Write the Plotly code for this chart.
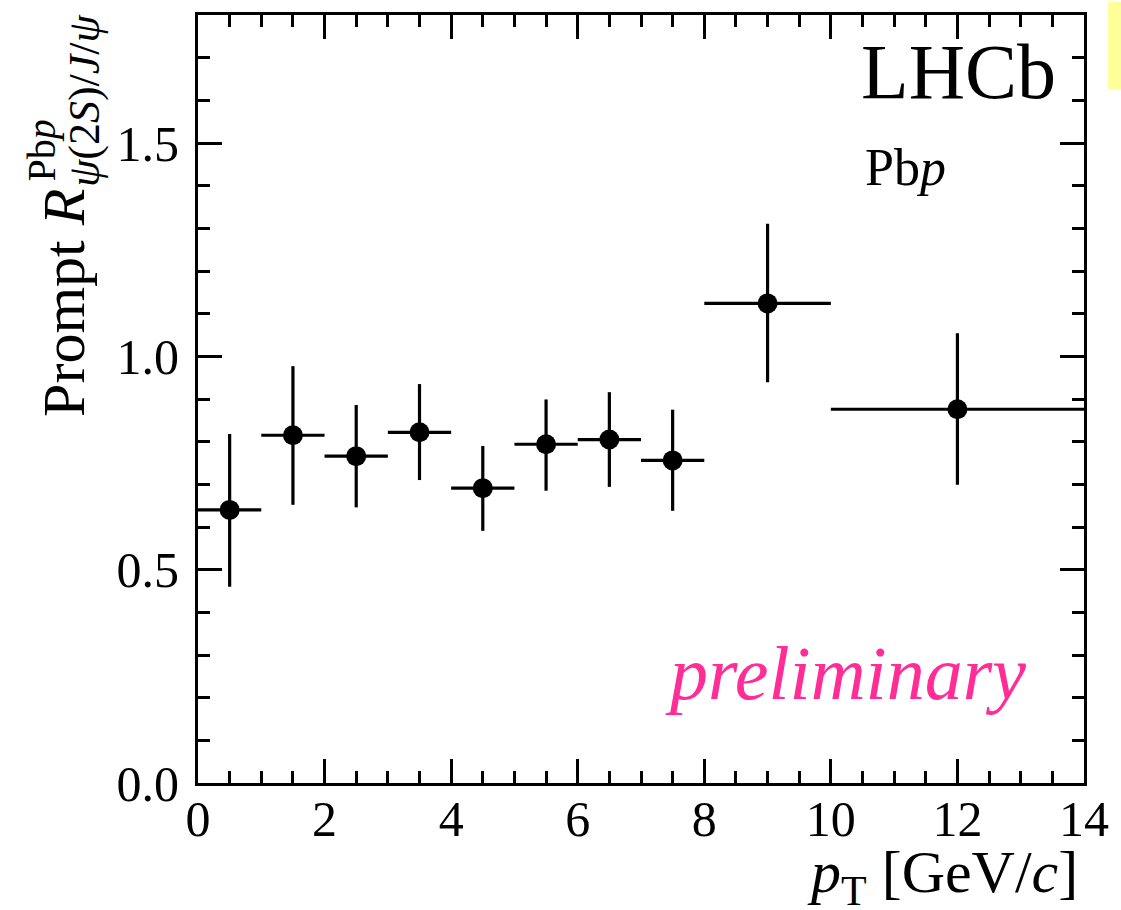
import plotly.graph_objects as go

# Data
pt_centers = [0.5, 1.5, 2.5, 3.5, 4.5, 5.5, 6.5, 7.5, 9.0, 12.0]
pt_halfwidth = [0.5, 0.5, 0.5, 0.5, 0.5, 0.5, 0.5, 0.5, 1.0, 2.0]
ratio = [0.640, 0.815, 0.766, 0.822, 0.691, 0.794, 0.805, 0.756, 1.124, 0.876]
err_up = [0.178, 0.162, 0.120, 0.113, 0.099, 0.105, 0.111, 0.119, 0.187, 0.178]
err_down = [0.180, 0.163, 0.120, 0.112, 0.100, 0.109, 0.111, 0.118, 0.185, 0.177]

x_ticks = [0, 2, 4, 6, 8, 10, 12, 14]
y_ticks = [0.0, 0.5, 1.0, 1.5]

SERIF = "Liberation Serif, Times New Roman, serif"

fig = go.Figure()
fig.add_trace(go.Scatter(
    x=pt_centers, y=ratio, mode="markers",
    marker=dict(color="black", size=20, symbol="circle"),
    error_x=dict(type="data", array=pt_halfwidth, symmetric=True,
                 color="black", thickness=3.2, width=0),
    error_y=dict(type="data", array=err_up, arrayminus=err_down,
                 symmetric=False, color="black", thickness=3.2, width=0),
    showlegend=False,
))

L, R, T, B = 198, 37, 13, 127
W, H = 1121, 910
pw, ph = W - L - R, H - T - B


def px(xp):
    return (xp - L) / pw


def py(yp):
    return (H - B - yp) / ph


axis_common = dict(
    showline=True, linecolor="black", linewidth=3, mirror="allticks",
    ticks="inside", ticklen=24, tickwidth=2.8, tickcolor="black",
    showgrid=False, zeroline=False,
    tickfont=dict(family=SERIF, size=50, color="black"),
)

fig.update_layout(
    width=W, height=H,
    margin=dict(l=L, r=R, t=T, b=B),
    paper_bgcolor="white", plot_bgcolor="white",
    xaxis=dict(range=[0, 14], tickvals=x_ticks,
               ticktext=[str(v) for v in x_ticks],
               minor=dict(dtick=0.5, ticks="inside", ticklen=12,
                          tickwidth=2.8, tickcolor="black", showgrid=False),
               ticklabelstandoff=-10,
               **axis_common),
    yaxis=dict(range=[0, 1.8], tickvals=y_ticks,
               ticktext=["%.1f" % v for v in y_ticks],
               minor=dict(dtick=0.1, ticks="inside", ticklen=12,
                          tickwidth=2.8, tickcolor="black", showgrid=False),
               ticklabelstandoff=6,
               **axis_common),
)

annotations = [
    # x-axis title
    dict(text="<i>p</i><sub>T</sub> [GeV/<i>c</i>]", x=px(1080), y=py(837),
         xanchor="right", yanchor="top", font=dict(family=SERIF, size=60)),
    # y-axis title pieces
    dict(text="Prompt <i>R</i>", x=px(64), y=py(418), textangle=-90,
         xanchor="center", yanchor="bottom", font=dict(family=SERIF, size=60)),
    dict(text="Pb<i>p</i>", x=px(42), y=py(182), textangle=-90,
         xanchor="center", yanchor="bottom", font=dict(family=SERIF, size=40)),
    dict(text="<i>ψ</i>(2<i>S</i>)/<i>J</i>/<i>ψ</i>", x=px(84), y=py(188), textangle=-90,
         xanchor="center", yanchor="bottom", font=dict(family=SERIF, size=44)),
    # labels inside plot
    dict(text="LHCb", x=px(1058), y=py(24), xanchor="right", yanchor="top",
         font=dict(family=SERIF, size=78)),
    dict(text="Pb<i>p</i>", x=px(863), y=py(135), xanchor="left", yanchor="top",
         font=dict(family=SERIF, size=52)),
    dict(text="<i>preliminary</i>", x=px(1028), y=py(629), xanchor="right", yanchor="top",
         font=dict(family=SERIF, size=76, color="#ff2d95")),
]
for a in annotations:
    a.setdefault("xref", "paper")
    a.setdefault("yref", "paper")
    a.setdefault("showarrow", False)
    a["font"].setdefault("color", "black")
fig.update_layout(annotations=annotations)

fig.add_shape(type="rect", xref="paper", yref="paper",
              x0=px(1108), x1=px(1121), y0=py(88), y1=py(0),
              fillcolor="#ffff99", line=dict(width=0), layer="above")

fig.write_html("out.html", config={"displayModeBar": False},
               post_script="document.body.style.margin='0';document.body.style.padding='0';")
